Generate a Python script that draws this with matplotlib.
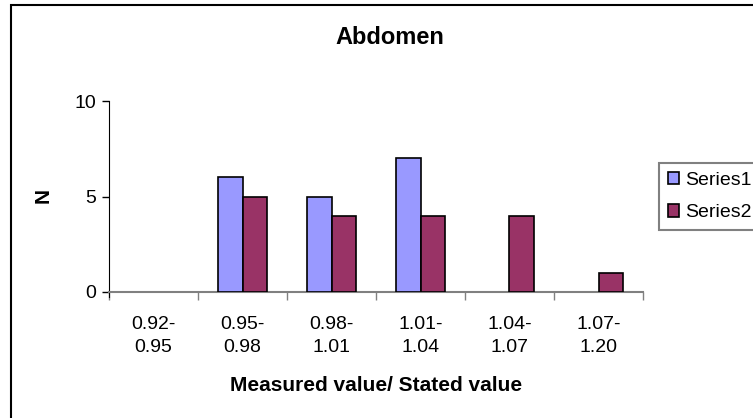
import matplotlib.pyplot as plt
import numpy as np
from matplotlib.patches import Rectangle

plt.rcParams['font.family'] = ['Liberation Sans', 'DejaVu Sans']

categories = ["0.92-\n0.95", "0.95-\n0.98", "0.98-\n1.01", "1.01-\n1.04", "1.04-\n1.07", "1.07-\n1.20"]
series1 = [0, 6, 5, 7, 0, 0]
series2 = [0, 5, 4, 4, 4, 1]

W, H = 753, 418
fig = plt.figure(figsize=(W / 100, H / 100), dpi=100)
ax = fig.add_axes([109 / W, 1 - 292 / H, (643 - 109) / W, (292 - 101) / H])

x = np.arange(len(categories))
bw = 0.28
# empty bins draw nothing, as in the original
edges1 = ["black" if v > 0 else "none" for v in series1]
edges2 = ["black" if v > 0 else "none" for v in series2]
ax.bar(x - bw / 2, series1, bw, color="#9999FF", edgecolor=edges1, linewidth=1.2, label="Series1", zorder=3)
ax.bar(x + bw / 2, series2, bw, color="#993366", edgecolor=edges2, linewidth=1.2, label="Series2", zorder=3)

ax.set_xlim(-0.5, len(categories) - 0.5)
ax.set_ylim(0, 10)
ax.set_yticks([0, 5, 10])
ax.tick_params(axis="y", labelsize=14, length=5, width=1, color="black", pad=4)

ax.set_xticks(np.arange(len(categories) + 1) - 0.5)
ax.set_xticklabels([])
ax.tick_params(axis="x", which="major", length=6, width=1, color="#808080", direction="out")
ax.set_xticks(x, minor=True)
ax.set_xticklabels(categories, minor=True, fontsize=14, linespacing=1.5)
ax.tick_params(axis="x", which="minor", length=0, pad=17)

for s in ["top", "right"]:
    ax.spines[s].set_visible(False)
ax.spines["left"].set_color("black")
ax.spines["left"].set_bounds(-0.25, 10)
ax.spines["bottom"].set_color("#808080")
ax.spines["bottom"].set_linewidth(1.5)

ax.set_xlabel("Measured value/ Stated value", fontsize=15, fontweight="bold")
ax.xaxis.set_label_coords(0.501, -0.492)
ax.xaxis.label.set_va("center")
ax.set_ylabel("N", fontsize=15, fontweight="bold")
ax.yaxis.set_label_coords(-0.124, 0.505)
ax.yaxis.label.set_va("center")

fig.text(390 / W, 1 - 37 / H, "Abdomen", fontsize=17, fontweight="bold", ha="center", va="center")

leg = fig.legend(loc="upper left", bbox_to_anchor=(659 / W, 1 - 163 / H), fontsize=14,
                 handlelength=0.6, handleheight=0.6, handletextpad=0.3, borderpad=0.45,
                 labelspacing=0.8, borderaxespad=0, fancybox=False, framealpha=1)
leg.get_frame().set_edgecolor("#808080")
leg.get_frame().set_linewidth(1.5)
for h in leg.legend_handles:
    h.set_edgecolor("black")

fig.add_artist(Rectangle((10.5 / W, -0.1), 1.0, 1.1 - 5.5 / H, transform=fig.transFigure,
                         fill=False, edgecolor="black", linewidth=1.5, clip_on=False))

fig.savefig("out.png", dpi=100)
